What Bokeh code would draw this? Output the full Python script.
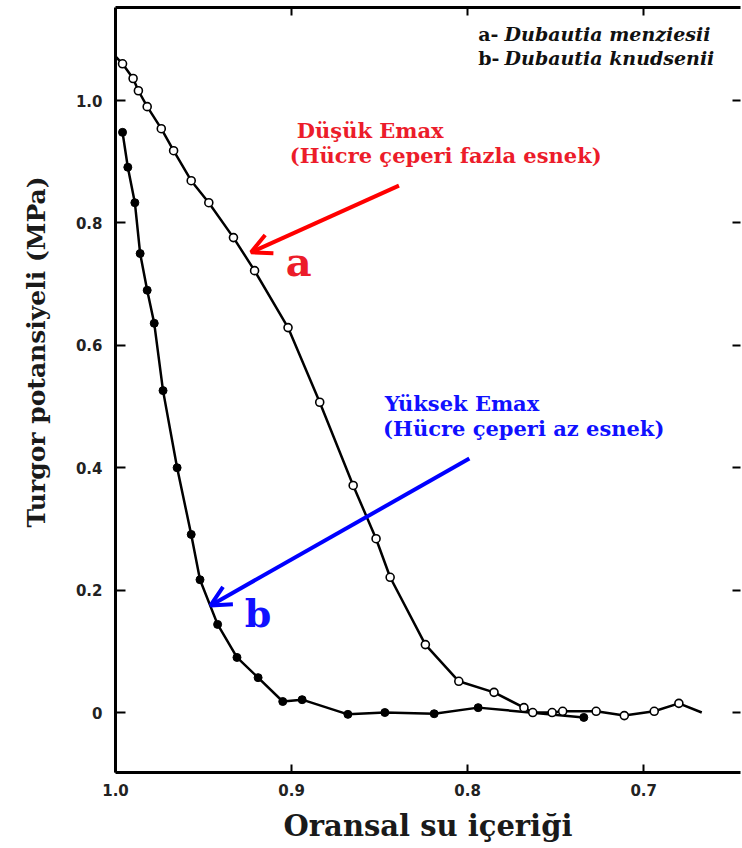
from bokeh.plotting import figure
from bokeh.models import (Range1d, LinearAxis, FixedTicker, Label, Arrow, OpenHead,
                          PrintfTickFormatter, Title)
from bokeh.embed import file_html
from bokeh.resources import INLINE

# Series a: Dubautia menziesii (open circles)
a_x = [0.996, 0.990, 0.987, 0.982, 0.974, 0.967, 0.957, 0.947, 0.933, 0.921,
       0.902, 0.884, 0.865, 0.852, 0.844, 0.824, 0.805, 0.785, 0.768, 0.763,
       0.752, 0.746, 0.727, 0.711, 0.694, 0.680]
a_y = [1.060, 1.036, 1.016, 0.990, 0.954, 0.918, 0.869, 0.833, 0.776, 0.722,
       0.629, 0.507, 0.371, 0.284, 0.221, 0.111, 0.051, 0.033, 0.008, 0.000,
       0.000, 0.002, 0.002, -0.005, 0.002, 0.015]
# drawn curve of a runs from the y axis to the end of the baseline
a_line_x = [1.000] + a_x + [0.667]
a_line_y = [1.072] + a_y + [0.000]

# Series b: Dubautia knudsenii (filled circles)
b_x = [0.996, 0.993, 0.989, 0.986, 0.982, 0.978, 0.973, 0.965, 0.957, 0.952,
       0.942, 0.931, 0.919, 0.905, 0.894, 0.868, 0.847, 0.819, 0.794, 0.734]
b_y = [0.948, 0.891, 0.833, 0.750, 0.690, 0.636, 0.526, 0.400, 0.291, 0.217,
       0.144, 0.090, 0.057, 0.018, 0.021, -0.003, 0.000, -0.002, 0.008, -0.008]

x_ticks = [1.0, 0.9, 0.8, 0.7]
y_ticks = [0.0, 0.2, 0.4, 0.6, 0.8, 1.0]

x_title = "Oransal su içeriği"
y_title = "Turgor potansiyeli (MPa)"

p = figure(width=742, height=848,
           x_range=Range1d(1.0, 0.645), y_range=Range1d(-0.098, 1.152),
           output_backend="svg", toolbar_location=None,
           min_border_left=115, min_border_right=2,
           min_border_top=7, min_border_bottom=76,
           x_axis_label=x_title)

p.background_fill_color = "white"
p.border_fill_color = "white"
p.outline_line_color = None
p.grid.visible = False

serif = "DejaVu Serif"
tick_font = "DejaVu Sans"

# bottom axis
xa = p.xaxis[0]
xa.ticker = FixedTicker(ticks=x_ticks)
xa.formatter = PrintfTickFormatter(format="%.1f")
xa.axis_line_width = 3
xa.major_tick_in = 8
xa.major_tick_out = 0
xa.major_tick_line_width = 2
xa.minor_tick_line_color = None
xa.major_label_standoff = 11
xa.major_label_text_font = tick_font
xa.major_label_text_font_style = "bold"
xa.major_label_text_font_size = "15px"
xa.major_label_text_color = "#222222"
xa.axis_label_text_font = serif
xa.axis_label_text_font_style = "bold"
xa.axis_label_text_font_size = "29px"
xa.axis_label_text_color = "#1a1a1a"
xa.axis_label_standoff = 10

# left axis
ya = p.yaxis[0]
ya.ticker = FixedTicker(ticks=y_ticks)
ya.formatter = PrintfTickFormatter(format="%.1f")
ya.major_label_overrides = {0: "0"}
ya.axis_line_width = 3
ya.major_tick_in = 10
ya.major_tick_out = 0
ya.major_tick_line_width = 2
ya.minor_tick_line_color = None
ya.major_label_standoff = 13
ya.major_label_text_font = tick_font
ya.major_label_text_font_style = "bold"
ya.major_label_text_font_size = "15px"
ya.major_label_text_color = "#222222"

# y axis title as a side title (lets it sit above the frame centre like the reference)
p.add_layout(Title(text=y_title, align="left", offset=245, standoff=40,
                   vertical_align="top",
                   text_font=serif, text_font_style="bold", text_font_size="25px",
                   text_color="#1a1a1a"), "left")

# top axis (ticks only)
top = LinearAxis(ticker=FixedTicker(ticks=[0.9, 0.8, 0.7]))
top.axis_line_width = 3
top.major_tick_in = 8
top.major_tick_out = 0
top.major_tick_line_width = 2
top.minor_tick_line_color = None
top.major_label_text_color = None
top.major_label_text_font_size = "1px"
top.major_label_standoff = 0
p.add_layout(top, "above")

# right axis (ticks only)
right = LinearAxis(ticker=FixedTicker(ticks=y_ticks))
right.axis_line_color = None
right.major_tick_in = 8
right.major_tick_out = 0
right.major_tick_line_width = 2
right.minor_tick_line_color = None
right.major_label_text_color = None
right.major_label_text_font_size = "1px"
right.major_label_standoff = 0
p.add_layout(right, "right")

# curves
p.line(a_line_x, a_line_y, line_color="black", line_width=2.5)
p.line(b_x, b_y, line_color="black", line_width=2.5)
p.scatter(a_x, a_y, marker="circle", size=8, fill_color="white",
          line_color="black", line_width=1.6)
p.scatter(b_x, b_y, marker="circle", size=8, fill_color="black",
          line_color="black")

red_txt = "#ec1c2a"
blue_txt = "#1010ff"
ann_size = "21px"

# red annotation
p.add_layout(Arrow(end=OpenHead(line_color="red", line_width=4, size=20),
                   x_start=0.839, y_start=0.861, x_end=0.923, y_end=0.752,
                   line_color="red", line_width=4))
p.add_layout(Label(x=0.897, y=0.951, text="Düşük Emax", text_font=serif,
                   text_font_style="bold", text_font_size=ann_size,
                   text_color=red_txt, text_baseline="middle", text_align="left"))
p.add_layout(Label(x=0.901, y=0.910, text="(Hücre çeperi fazla esnek)", text_font=serif,
                   text_font_style="bold", text_font_size=ann_size,
                   text_color=red_txt, text_baseline="middle", text_align="left"))
p.add_layout(Label(x=0.896, y=0.737, text="a", text_font=serif,
                   text_font_style="bold", text_font_size="40px",
                   text_color=red_txt, text_baseline="middle", text_align="center"))

# blue annotation
p.add_layout(Arrow(end=OpenHead(line_color="blue", line_width=4, size=20),
                   x_start=0.799, y_start=0.415, x_end=0.946, y_end=0.175,
                   line_color="blue", line_width=4))
p.add_layout(Label(x=0.847, y=0.505, text="Yüksek Emax", text_font=serif,
                   text_font_style="bold", text_font_size=ann_size,
                   text_color=blue_txt, text_baseline="middle", text_align="left"))
p.add_layout(Label(x=0.848, y=0.464, text="(Hücre çeperi az esnek)", text_font=serif,
                   text_font_style="bold", text_font_size=ann_size,
                   text_color=blue_txt, text_baseline="middle", text_align="left"))
p.add_layout(Label(x=0.919, y=0.162, text="b", text_font=serif,
                   text_font_style="bold", text_font_size="38px",
                   text_color=blue_txt, text_baseline="middle", text_align="center"))

# species key
for lab, name, yy in [("a-", "Dubautia menziesii", 1.109), ("b-", "Dubautia knudsenii", 1.070)]:
    p.add_layout(Label(x=0.794, y=yy, text=lab, text_font=serif,
                       text_font_style="bold", text_font_size="19px",
                       text_color="#111111", text_baseline="middle", text_align="left"))
    p.add_layout(Label(x=0.779, y=yy, text=name, text_font=serif,
                       text_font_style="bold italic", text_font_size="19px",
                       text_color="#111111", text_baseline="middle", text_align="left"))

open("out.html", "w").write(file_html(p, INLINE))
